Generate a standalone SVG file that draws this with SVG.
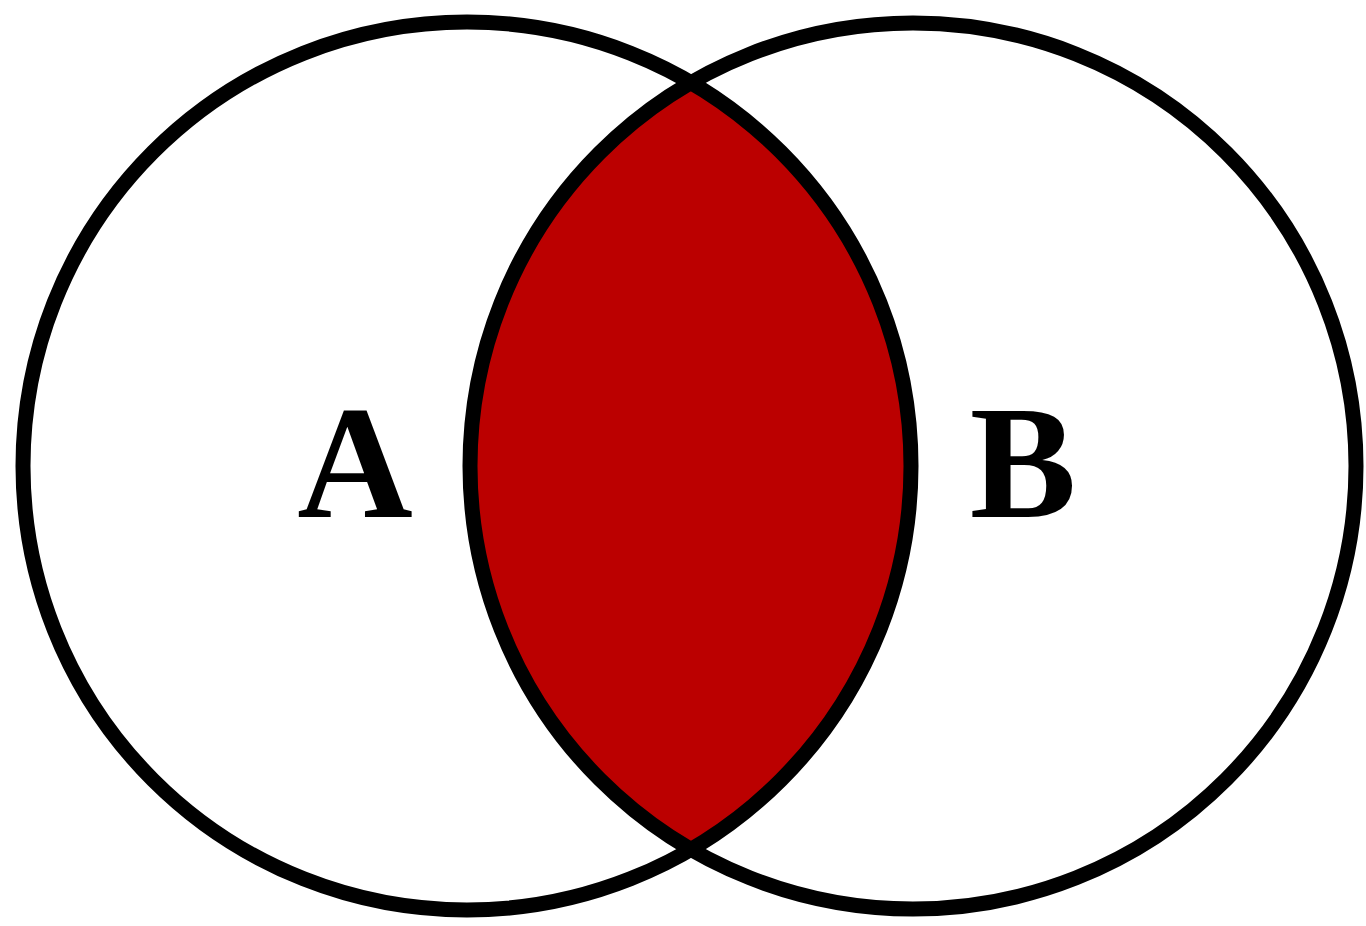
<svg xmlns="http://www.w3.org/2000/svg" width="1366" height="926" viewBox="0 0 1366 926">
<style>
.ring{fill:none;stroke:#000;stroke-width:15}
.lbl{font-family:"Liberation Serif","Times New Roman",serif;font-weight:bold;font-size:160px;fill:#000;text-anchor:middle}
</style>
<rect width="1366" height="926" fill="#fff"/>
<g id="intersection">
<path d="M691,82.6 A443,443 0 0 0 691,849.4 A444,444 0 0 0 691,82.6 Z" fill="#BB0000"/>
</g>
<g id="setA">
<circle class="ring" cx="467" cy="466" r="444"/>
<text class="lbl" x="355" y="517">A</text>
</g>
<g id="setB">
<circle class="ring" cx="913" cy="466" r="443"/>
<text class="lbl" x="1023" y="517">B</text>
</g>
</svg>
